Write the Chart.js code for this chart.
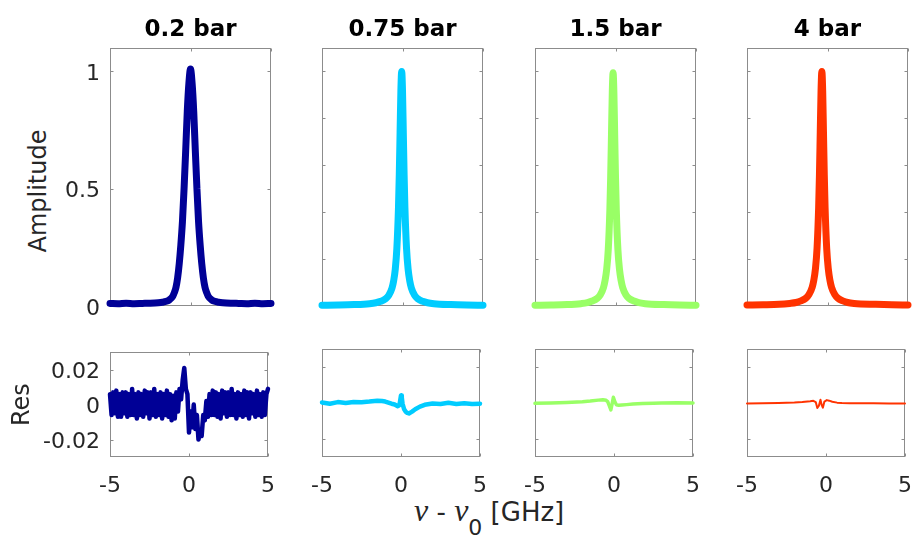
<!DOCTYPE html>
<html><head><meta charset="utf-8">
<script src="https://cdn.jsdelivr.net/npm/chart.js@4"></script>
<style>
html,body{margin:0;padding:0;background:#fff;}
body{width:919px;height:541px;position:relative;overflow:hidden;font-family:"DejaVu Sans";}
canvas{position:absolute;}
.lbl{position:absolute;color:#262626;white-space:nowrap;font-family:"DejaVu Sans";}
#amp{left:38px;top:191px;font-size:24px;line-height:28px;transform:translate(-50%,-50%) rotate(-90deg);}
#xlab{left:414px;top:498px;font-size:26px;line-height:24px;}
#xlab .nu{font-family:"Liberation Serif";font-style:italic;font-size:32px;}
#xlab sub{font-size:22px;vertical-align:-14px;line-height:0;}
</style></head><body>
<div id="amp" class="lbl">Amplitude</div>
<div id="xlab" class="lbl"><span class="nu">ν</span> - <span class="nu">ν</span><sub>0</sub> [GHz]</div>
<script>
// ---------- data ----------
const panelTitles = ['0.2 bar', '0.75 bar', '1.5 bar', '4 bar'];
const xTicks = [-5, 0, 5];
const ampTicksFirst = [0, 0.5, 1];
const ampTicksOther = [0, 0.2, 0.4, 0.6, 0.8, 1];
const resTicks = [-0.02, 0, 0.02];

// 0.2 bar amplitude
const ampX1 = [-5,-4.5,-4,-3.5,-3,-2.5,-2,-1.75,-1.5,-1.3,-1.1,-1,-0.9,-0.8,-0.7,-0.6,-0.5,-0.4,-0.3,-0.2,-0.1,0,0.1,0.2,0.3,0.4,0.5,0.6,0.7,0.8,0.9,1,1.1,1.3,1.5,1.75,2,2.5,3,3.5,4,4.5,5];
const ampY1 = [0.011,0.010,0.012,0.010,0.011,0.012,0.014,0.016,0.020,0.027,0.042,0.058,0.080,0.12,0.18,0.26,0.36,0.50,0.66,0.83,0.95,1.01,0.95,0.83,0.66,0.50,0.36,0.26,0.18,0.12,0.080,0.058,0.042,0.027,0.020,0.016,0.014,0.012,0.011,0.010,0.012,0.010,0.011];
// 0.75 bar amplitude
const ampX2 = [-5,-4,-3,-2.05,-1.65,-1.35,-1.05,-0.85,-0.65,-0.55,-0.45,-0.35,-0.25,-0.2,-0.15,-0.1,-0.05,0,0.05,0.1,0.15,0.25,0.35,0.45,0.55,0.75,0.95,1.25,1.55,1.95,3,4,5];
const ampY2 = [0.003,0.004,0.006,0.010,0.014,0.020,0.031,0.046,0.077,0.107,0.156,0.246,0.42,0.56,0.74,0.92,1.0,0.92,0.74,0.56,0.42,0.246,0.156,0.107,0.077,0.046,0.031,0.020,0.014,0.010,0.006,0.004,0.003];
// 1.5 bar amplitude
const ampX3 = [-5,-4,-3,-2.15,-1.75,-1.45,-1.15,-0.95,-0.75,-0.65,-0.55,-0.45,-0.35,-0.3,-0.25,-0.2,-0.15,-0.1,-0.05,0,0.05,0.15,0.25,0.35,0.45,0.65,0.85,1.15,1.45,1.85,3,4,5];
const ampY3 = [0.003,0.004,0.006,0.010,0.014,0.021,0.032,0.047,0.078,0.108,0.155,0.24,0.41,0.55,0.73,0.91,0.995,0.91,0.73,0.55,0.41,0.24,0.155,0.108,0.078,0.047,0.032,0.021,0.014,0.010,0.006,0.004,0.003];
// 4 bar amplitude
const ampX4 = [-5,-4,-3,-2.35,-1.95,-1.65,-1.35,-1.15,-0.95,-0.85,-0.75,-0.65,-0.55,-0.5,-0.45,-0.4,-0.35,-0.3,-0.25,-0.2,-0.15,-0.05,0.05,0.15,0.25,0.45,0.65,0.95,1.25,1.65,3,4,5];
const ampY4 = [0.004,0.005,0.007,0.011,0.015,0.022,0.033,0.049,0.080,0.110,0.158,0.245,0.42,0.56,0.74,0.92,1.0,0.92,0.74,0.56,0.42,0.245,0.158,0.110,0.080,0.049,0.033,0.022,0.015,0.011,0.007,0.005,0.004];

// residuals
const resX1 = [-5,-4.9,-4.8,-4.7,-4.6,-4.5,-4.4,-4.3,-4.2,-4.1,-4,-3.9,-3.8,-3.7,-3.6,-3.5,-3.4,-3.3,-3.2,-3.1,-3,-2.9,-2.8,-2.7,-2.6,-2.5,-2.4,-2.3,-2.2,-2.1,-2,-1.9,-1.8,-1.7,-1.6,-1.5,-1.4,-1.3,-1.2,-1.1,-1,-0.9,-0.8,-0.7,-0.6,-0.5,-0.4,-0.3,-0.2,-0.1,0,0.1,0.2,0.3,0.4,0.5,0.6,0.7,0.8,0.9,1,1.1,1.2,1.3,1.4,1.5,1.6,1.7,1.8,1.9,2,2.1,2.2,2.3,2.4,2.5,2.6,2.7,2.8,2.9,3,3.1,3.2,3.3,3.4,3.5,3.6,3.7,3.8,3.9,4,4.1,4.2,4.3,4.4,4.5,4.6,4.7,4.8,4.9,5];
const resY1 = [0.006,-0.006,0.007,-0.005,0.008,-0.007,0.006,-0.007,0.007,-0.005,
0.007,-0.007,0.006,-0.006,0.009,-0.006,0.006,-0.008,0.007,-0.006,
0.006,-0.007,0.008,-0.005,0.007,-0.008,0.007,-0.006,0.009,-0.007,
0.006,-0.006,0.007,-0.008,0.006,-0.006,0.008,-0.007,0.006,-0.009,
0.005,-0.008,0.007,-0.004,0.009,0.003,0.014,0.021,0.009,0.006,
-0.016,-0.004,-0.013,0.000,-0.014,-0.006,-0.020,-0.015,-0.018,-0.006,
-0.009,0.002,-0.007,0.006,-0.006,0.008,-0.006,0.007,-0.007,0.006,
-0.008,0.008,-0.005,0.007,-0.007,0.007,-0.006,0.009,-0.006,0.006,
-0.008,0.007,-0.006,0.006,-0.007,0.008,-0.006,0.007,-0.008,0.007,
-0.005,0.006,-0.007,0.008,-0.006,0.006,-0.007,0.007,-0.006,0.006,
0.009];
const resX2 = [-5,-4.5,-4,-3.5,-3,-2.5,-2,-1.5,-1.2,-1,-0.8,-0.6,-0.4,-0.2,-0.1,-0.05,0,0.05,0.1,0.2,0.3,0.4,0.5,0.7,0.9,1.2,1.5,2,2.5,3,3.5,4,4.5,5];
const resY2 = [0.0003,-0.0004,0.0005,0.0,0.0006,0.0004,0.0008,0.0013,0.0011,0.0008,0.0002,-0.0004,-0.0008,-0.0018,-0.0012,0.0015,0.0042,0.003,-0.0005,-0.0035,-0.0048,-0.0055,-0.0058,-0.0048,-0.0035,-0.002,-0.001,-0.0003,-0.0006,0.0001,-0.0005,-0.0001,-0.0006,-0.0004];
const resX3 = [-5,-4,-3,-2,-1.5,-1,-0.7,-0.5,-0.4,-0.3,-0.2,-0.12,-0.04,0.05,0.15,0.3,0.5,0.8,1.2,1.8,2.5,3,4,5];
const resY3 = [-0.0002,0.0,0.0003,0.0007,0.0011,0.0016,0.0018,0.0015,0.0008,-0.0015,-0.0038,-0.0005,0.0032,0.0008,-0.001,-0.0013,-0.0011,-0.0009,-0.0006,-0.0003,-0.0001,0.0,0.0001,0.0];
const resX4 = [-5,-4,-3,-2,-1.5,-1,-0.8,-0.65,-0.55,-0.45,-0.35,-0.27,-0.2,-0.1,0.05,0.2,0.4,0.7,1,1.5,2,3,4,5];
const resY4 = [-0.0003,-0.0002,0.0,0.0003,0.0006,0.0010,0.0012,0.0005,-0.0028,-0.0015,0.0018,-0.0012,-0.0026,0.0008,0.0016,0.0013,0.0007,0.0002,0.0,-0.0001,-0.0002,-0.0002,-0.0003,-0.0003];

// ---------- styles / layout ----------
const seriesColors = ['#000096', '#00CCFF', '#99FF66', '#FF3300'];
const ampWidths = [7, 7, 7, 7];
const resWidths = [4.5, 4.5, 3.5, 2];
const colLeft = [110, 322, 535, 747];
const plotW = 161;
const TXT = '#262626';
const FONT = 'DejaVu Sans';

const framePlugin = {
  id: 'frameTicks',
  beforeDatasetsDraw(chart) {
    const {ctx, chartArea: a, scales: {x, y}} = chart;
    const L = Math.round(a.left) + 0.5, R = Math.round(a.right) - 0.5;
    const T = Math.round(a.top) + 0.5, B = Math.round(a.bottom) - 0.5;
    ctx.save();
    ctx.strokeStyle = '#8c8c8c';
    ctx.lineWidth = 1;
    ctx.strokeRect(L, T, R - L, B - T);
    const tl = 3;
    ctx.beginPath();
    x.ticks.forEach(t => {
      const p = Math.round(x.getPixelForValue(t.value)) + 0.5;
      ctx.moveTo(p, B); ctx.lineTo(p, B - tl);
      ctx.moveTo(p, T); ctx.lineTo(p, T + tl);
    });
    y.ticks.forEach(t => {
      const p = Math.round(y.getPixelForValue(t.value)) + 0.5;
      ctx.moveTo(L, p); ctx.lineTo(L + tl, p);
      ctx.moveTo(R, p); ctx.lineTo(R - tl, p);
    });
    ctx.stroke();
    ctx.restore();
  }
};

function makePanel(cfg) {
  const padR = 20;
  const padL = cfg.col === 0 ? 110 : 30;
  const c = document.createElement('canvas');
  const cw = padL + plotW + padR;
  const ch = cfg.padT + cfg.plotH + cfg.padB;
  c.width = cw; c.height = ch;
  c.style.width = cw + 'px'; c.style.height = ch + 'px';
  c.style.left = (colLeft[cfg.col] - padL) + 'px';
  c.style.top = (cfg.top - cfg.padT) + 'px';
  document.body.appendChild(c);
  new Chart(c, {
    type: 'line',
    data: {datasets: [{
      data: cfg.xs.map((x, i) => ({x: x, y: cfg.ys[i]})),
      borderColor: cfg.color, backgroundColor: cfg.color,
      borderWidth: cfg.lw, pointRadius: 0, fill: false,
      borderCapStyle: 'round', borderJoinStyle: 'round',
      cubicInterpolationMode: cfg.smooth ? 'monotone' : 'default',
      tension: 0, clip: false
    }]},
    options: {
      responsive: false, animation: false, devicePixelRatio: 1,
      events: [],
      layout: {padding: {left: 0, right: padR, top: cfg.title ? 0 : cfg.padT, bottom: 0}},
      plugins: {
        legend: {display: false}, tooltip: {enabled: false},
        title: {display: !!cfg.title, text: cfg.title || '', color: '#000', fullSize: false,
          font: {family: FONT, size: 23, weight: 'bold'}, padding: {top: 16.4, bottom: 4}}
      },
      scales: {
        x: {
          type: 'linear', min: -5, max: 5,
          afterBuildTicks: s => { s.ticks = xTicks.map(v => ({value: v})); },
          afterFit: s => { s.height = cfg.padB; },
          grid: {display: false, drawTicks: false}, border: {display: false},
          ticks: {display: !!cfg.xLabels, color: TXT, font: {family: FONT, size: 22},
            padding: 16, maxRotation: 0, autoSkip: false, callback: v => String(v)}
        },
        y: {
          type: 'linear', min: cfg.ymin, max: cfg.ymax,
          afterBuildTicks: s => { s.ticks = cfg.yTicks.map(v => ({value: v})); },
          afterFit: s => { s.width = padL; },
          grid: {display: false, drawTicks: false}, border: {display: false},
          ticks: {display: !!cfg.yLabels, color: TXT, font: {family: FONT, size: 22},
            padding: 10, labelOffset: 3, autoSkip: false, callback: v => String(v)},
          title: {display: !!cfg.yTitle, text: cfg.yTitle || '', color: TXT,
            font: {family: FONT, size: 24}, padding: {top: 8, bottom: 0}}
        }
      }
    },
    plugins: [framePlugin]
  });
}

const ampXs = [ampX1, ampX2, ampX3, ampX4];
const ampYs = [ampY1, ampY2, ampY3, ampY4];
const resXs = [resX1, resX2, resX3, resX4];
const resYs = [resY1, resY2, resY3, resY4];

for (let k = 0; k < 4; k++) {
  makePanel({col: k, top: 48, padT: 48, plotH: 258, padB: 30,
    xs: ampXs[k], ys: ampYs[k], color: seriesColors[k], lw: ampWidths[k], smooth: true,
    ymin: 0, ymax: 1.1, yTicks: k === 0 ? ampTicksFirst : ampTicksOther,
    yLabels: k === 0, xLabels: false, title: panelTitles[k]});
  makePanel({col: k, top: 349, padT: 20, plotH: 108, padB: 55,
    xs: resXs[k], ys: resYs[k], color: seriesColors[k], lw: resWidths[k], smooth: false,
    ymin: -0.03, ymax: 0.03, yTicks: resTicks,
    yLabels: k === 0, xLabels: true, yTitle: k === 0 ? 'Res' : ''});
}
</script>
</body></html>
